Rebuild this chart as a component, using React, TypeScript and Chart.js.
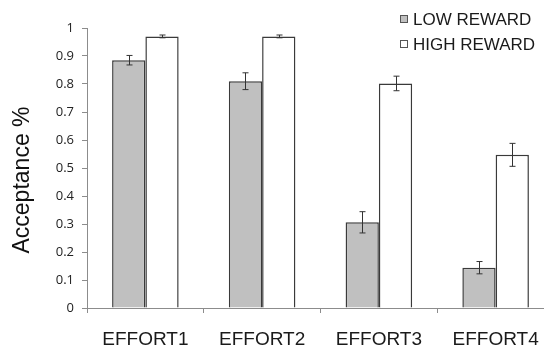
import React, { useEffect, useRef } from "react";
import { Chart, registerables } from "chart.js";

Chart.register(...registerables);

const categories = ["EFFORT1", "EFFORT2", "EFFORT3", "EFFORT4"];
const lowReward = [0.885, 0.81, 0.306, 0.144];
const lowRewardErr = [0.017, 0.03, 0.038, 0.022];
const highReward = [0.97, 0.97, 0.802, 0.547];
const highRewardErr = [0.005, 0.005, 0.026, 0.041];
const seriesNames = ["LOW REWARD", "HIGH REWARD"];
const yAxisTitle = "Acceptance %";

const errorBarPlugin = {
  id: "errorBars",
  afterDatasetsDraw(chart: any) {
    const ctx = chart.ctx;
    const yScale = chart.scales.y;
    const errs = [lowRewardErr, highRewardErr];
    ctx.save();
    ctx.strokeStyle = "#333333";
    ctx.lineWidth = 1;
    chart.data.datasets.forEach((ds: any, di: number) => {
      const meta = chart.getDatasetMeta(di);
      meta.data.forEach((bar: any, i: number) => {
        const v = ds.data[i];
        const e = errs[di][i];
        const x = Math.round(bar.x) + 0.5;
        const yt = yScale.getPixelForValue(v + e);
        const yb = yScale.getPixelForValue(v - e);
        ctx.beginPath();
        ctx.moveTo(x, yt);
        ctx.lineTo(x, yb);
        ctx.moveTo(x - 3, yt);
        ctx.lineTo(x + 3, yt);
        ctx.moveTo(x - 3, yb);
        ctx.lineTo(x + 3, yb);
        ctx.stroke();
      });
    });
    ctx.restore();
  },
};

const legendPlugin = {
  id: "customLegend",
  afterDraw(chart: any) {
    const ctx = chart.ctx;
    ctx.save();
    const rows = [19, 44];
    chart.data.datasets.forEach((ds: any, di: number) => {
      const y = rows[di];
      ctx.fillStyle = ds.backgroundColor;
      ctx.strokeStyle = "#555555";
      ctx.lineWidth = 1;
      ctx.fillRect(400.5, y - 3.5, 7, 7);
      ctx.strokeRect(400.5, y - 3.5, 7, 7);
      ctx.fillStyle = "#1a1a1a";
      ctx.font = "17px 'Liberation Sans', Arial, sans-serif";
      ctx.textBaseline = "middle";
      ctx.textAlign = "left";
      ctx.fillText(ds.label, 413, y + 1);
    });
    ctx.restore();
  },
};

const yTitlePlugin = {
  id: "yTitle",
  afterDraw(chart: any) {
    const ctx = chart.ctx;
    const area = chart.chartArea;
    ctx.save();
    ctx.translate(23, (area.top + area.bottom) / 2 + 12);
    ctx.rotate(-Math.PI / 2);
    ctx.fillStyle = "#111111";
    ctx.font = "23px 'Liberation Sans', Arial, sans-serif";
    ctx.textAlign = "center";
    ctx.textBaseline = "middle";
    ctx.fillText(yAxisTitle, 0, 0);
    ctx.restore();
  },
};

export default function App() {
  const canvasRef = useRef<HTMLCanvasElement | null>(null);

  useEffect(() => {
    if (!canvasRef.current) return;
    const chart = new Chart(canvasRef.current, {
      type: "bar",
      data: {
        labels: categories,
        datasets: [
          {
            label: seriesNames[0],
            data: lowReward,
            backgroundColor: "#c0c0c0",
            borderColor: "#3a3a3a",
            borderWidth: 1.5,
            categoryPercentage: 0.57,
            barPercentage: 1,
          },
          {
            label: seriesNames[1],
            data: highReward,
            backgroundColor: "#ffffff",
            borderColor: "#3a3a3a",
            borderWidth: 1.5,
            categoryPercentage: 0.57,
            barPercentage: 1,
          },
        ],
      },
      options: {
        responsive: false,
        animation: false,
        layout: { padding: { top: 28, right: 6, left: 0, bottom: 0 } },
        plugins: {
          legend: { display: false },
          tooltip: { enabled: false },
        },
        scales: {
          x: {
            grid: {
              display: true,
              offset: true,
              drawOnChartArea: false,
              drawTicks: true,
              tickLength: 5,
              color: "#8c8c8c",
            },
            border: { display: true, color: "#8c8c8c", width: 1 },
            ticks: {
              color: "#1a1a1a",
              font: { family: "'Liberation Sans', Arial, sans-serif", size: 19 },
              padding: 15,
            },
            afterFit(scale: any) {
              scale.height = 41;
            },
          },
          y: {
            min: 0,
            max: 1,
            grid: {
              display: true,
              drawOnChartArea: false,
              drawTicks: true,
              tickLength: 5,
              color: "#8c8c8c",
            },
            border: { display: true, color: "#8c8c8c", width: 1 },
            ticks: {
              stepSize: 0.1,
              color: "#222222",
              font: { family: "'Open Sans', sans-serif", size: 13 },
              padding: 8,
              callback: (v: any) => String(Math.round(Number(v) * 10) / 10),
            },
            title: { display: false },
            afterFit(scale: any) {
              scale.width = 87;
            },
          },
        },
      },
      plugins: [errorBarPlugin, legendPlugin, yTitlePlugin],
    });
    return () => chart.destroy();
  }, []);

  return (
    <div
      style={{
        position: "fixed",
        left: 0,
        top: 0,
        width: 544,
        height: 349,
        overflow: "hidden",
        background: "#ffffff",
      }}
    >
      <canvas ref={canvasRef} width={560} height={349} style={{ display: "block" }} />
    </div>
  );
}
